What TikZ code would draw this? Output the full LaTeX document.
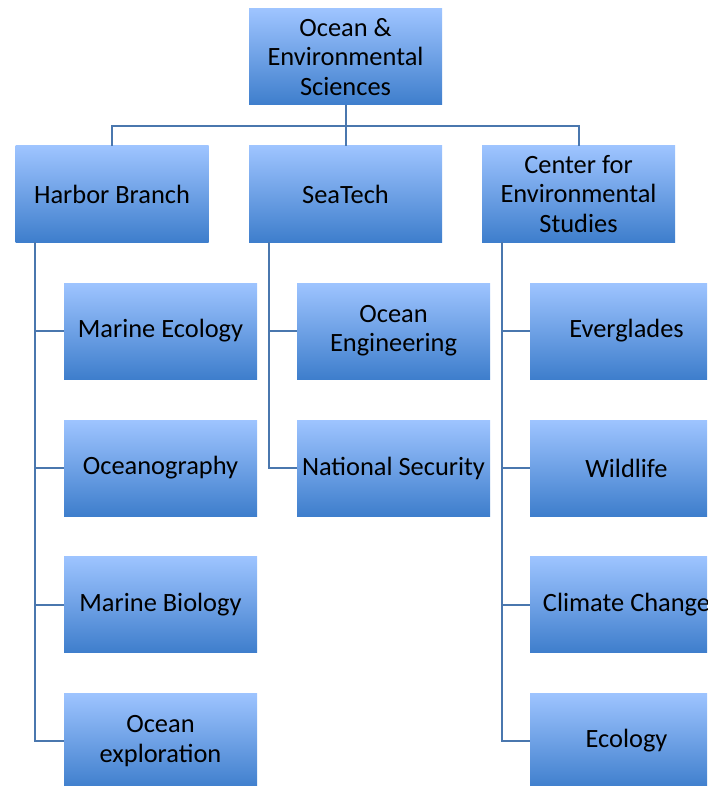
\documentclass[tikz,border=0pt]{standalone}
\usepackage{fontspec}
\setmainfont{Carlito}
\definecolor{boxtop}{HTML}{9EC4FF}
\definecolor{boxbot}{HTML}{3E7ECC}
\definecolor{linec}{HTML}{4A77AE}
\begin{document}
\begin{tikzpicture}[x=0.5pt,y=-0.5pt,
  box/.style={rectangle, top color=boxtop, bottom color=boxbot, draw=none,
    minimum width=96.5pt, minimum height=48pt, inner sep=0pt,
    align=center, font=\fontsize{13.2}{14.6}\selectfont, text=black},
  conn/.style={draw=linec, line width=1pt}]
\useasboundingbox (0,0) rectangle (707,786);
\clip (0,0) rectangle (707,786);
\node[box] (top) at (345.5,57) {Ocean \&\\Environmental\\Sciences};
\node[box] (hb) at (112,194) {Harbor Branch};
\node[box] (st) at (345.5,194) {SeaTech};
\node[box] (ce) at (578.5,194) {Center for\\Environmental\\Studies};
\coordinate (bus) at (0,126);
\draw[conn] (top.south) -- (st.north);
\draw[conn] (hb.north) -- (hb.north |- bus) -- (ce.north |- bus) -- (ce.north);
% Harbor Branch children
\node[box] (h1) at (160.5,331) {Marine Ecology};
\node[box] (h2) at (160.5,468) {Oceanography};
\node[box] (h3) at (160.5,604.5) {Marine Biology};
\node[box] (h4) at (160.5,741) {Ocean\\exploration};
% SeaTech children
\node[box] (s1) at (393.5,331) {Ocean\\Engineering};
\node[box] (s2) at (393.5,468) {National Security};
% Center children
\node[box] (c1) at (626.5,331) {Everglades};
\node[box] (c2) at (626.5,468) {Wildlife};
\node[box] (c3) at (626.5,604.5) {Climate Change};
\node[box] (c4) at (626.5,741) {Ecology};
\foreach \p/\c in {hb/h1,hb/h2,hb/h3,hb/h4,st/s1,st/s2,ce/c1,ce/c2,ce/c3,ce/c4}{
  \draw[conn] ([xshift=10pt]\p.south west) |- (\c.west);
}
\end{tikzpicture}
\end{document}
